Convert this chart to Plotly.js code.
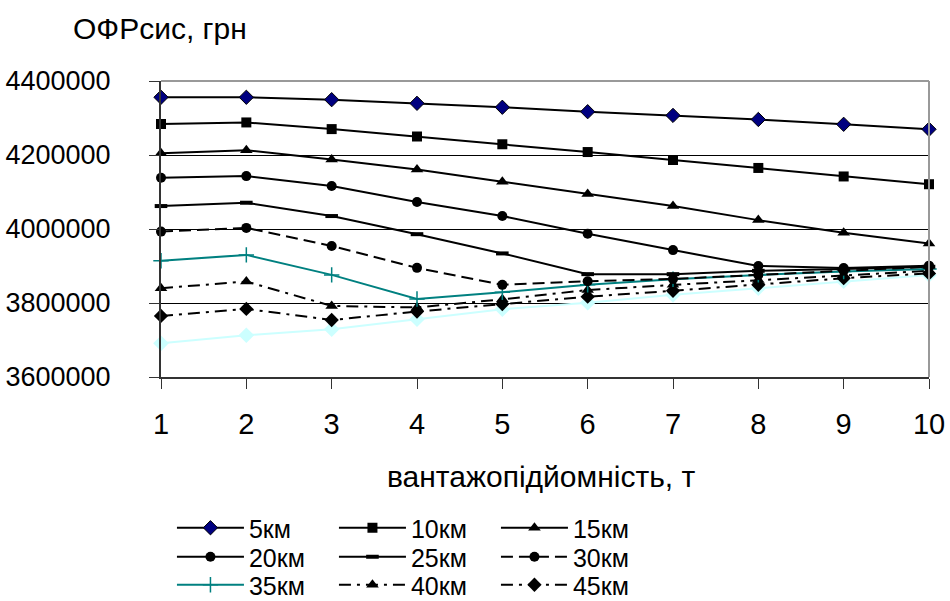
<!DOCTYPE html>
<html>
<head>
<meta charset="utf-8">
<script src="https://cdn.plot.ly/plotly-3.0.1.min.js"></script>
<style>html,body{margin:0;padding:0;background:#fff;}#chart{width:950px;height:601px;}</style>
</head>
<body>
<div id="chart"></div>
<script>
var xValues = [1, 2, 3, 4, 5, 6, 7, 8, 9, 10];
var seriesNames = ["5км", "10км", "15км", "20км", "25км", "30км", "35км", "40км", "45км", "50км"];
var s5  = [4356000, 4356000, 4349500, 4339700, 4329000, 4317000, 4307000, 4296000, 4283000, 4269500];
var s10 = [4283800, 4288000, 4270000, 4250000, 4229000, 4208000, 4186500, 4165000, 4142000, 4121000];
var s15 = [4205000, 4213000, 4188000, 4161000, 4128000, 4094600, 4062000, 4024000, 3990000, 3961000];
var s20 = [4138700, 4143000, 4116000, 4073000, 4035000, 3987000, 3943000, 3900000, 3894600, 3901000];
var s25 = [4062000, 4071000, 4035000, 3986000, 3934000, 3878000, 3878000, 3887000, 3892000, 3898000];
var s30 = [3993000, 4003000, 3954000, 3895000, 3849000, 3859000, 3865000, 3876000, 3887000, 3898000];
var s35 = [3914000, 3930000, 3876000, 3811000, 3829000, 3849000, 3864000, 3876000, 3885000, 3892000];
var s40 = [3840000, 3858000, 3792000, 3788000, 3810000, 3835000, 3849000, 3862000, 3876000, 3887000];
var s45 = [3765000, 3784000, 3754000, 3777000, 3797000, 3817000, 3833000, 3849000, 3867000, 3880000];
var s50 = [3691000, 3713000, 3729000, 3756000, 3783000, 3801000, 3822000, 3840000, 3859000, 3876000];
var yTicks = [3600000, 3800000, 4000000, 4200000, 4400000];
var yTitle = "ОФРсис, грн";
var xTitle = "вантажопідйомність, т";

var allSeries = [s5, s10, s15, s20, s25, s30, s35, s40, s45, s50];
var styles = [
  {line:{color:'#000',width:2}, marker:{symbol:'diamond', size:11, color:'#000080', line:{color:'#000',width:1}}, legend:'legend'},
  {line:{color:'#000',width:2}, marker:{symbol:'square', size:10, color:'#000'}, legend:'legend'},
  {line:{color:'#000',width:2}, marker:{symbol:'triangle-up', size:11, color:'#000'}, legend:'legend'},
  {line:{color:'#000',width:2}, marker:{symbol:'circle', size:10, color:'#000'}, legend:'legend2'},
  {line:{color:'#000',width:2}, marker:{symbol:'line-ew', size:9, color:'#000', line:{color:'#000',width:4}}, legend:'legend2'},
  {line:{color:'#000',width:2, dash:'12px,6px'}, marker:{symbol:'circle', size:10, color:'#000'}, legend:'legend2'},
  {line:{color:'#008080',width:2}, marker:{symbol:'cross-thin', size:11, color:'#008080', line:{color:'#008080',width:1.5}}, legend:'legend3'},
  {line:{color:'#000',width:2, dash:'12px,6px,3px,6px'}, marker:{symbol:'triangle-up', size:11, color:'#000'}, legend:'legend3'},
  {line:{color:'#000',width:2, dash:'12px,6px,3px,6px'}, marker:{symbol:'diamond', size:11, color:'#000'}, legend:'legend3'},
  {line:{color:'#ccffff',width:2}, marker:{symbol:'diamond', size:12, color:'#ccffff'}, legend:'legend3', showlegend:false}
];

var data = allSeries.map(function(s, i){
  var st = styles[i];
  return {
    x: xValues, y: s, name: seriesNames[i], type:'scatter', mode:'lines+markers',
    line: st.line, marker: st.marker, legend: st.legend,
    showlegend: st.showlegend === undefined ? true : st.showlegend,
    cliponaxis: false
  };
});
// draw light series first (beneath), dark series on top
data = [data[9]].concat(data.slice(0,9).reverse());

var FONT = 'Liberation Sans, Arial, sans-serif';
var legBase = {orientation:'h', xref:'container', yref:'container', x:0.181, xanchor:'left', yanchor:'middle',
  itemwidth:67, entrywidth:80, entrywidthmode:'pixels', font:{family:FONT, size:25, color:'#000'},
  bgcolor:'rgba(0,0,0,0)', tracegroupgap:0, traceorder:'reversed'};

function px2x(px){ return (px - 161) / 768; }
function px2y(py){ return (377 - py) / 296; }

var layout = {
  width:950, height:601,
  margin:{l:161, r:21, t:81, b:224},
  paper_bgcolor:'#fff', plot_bgcolor:'#fff',
  font:{family:FONT, color:'#000'},
  xaxis:{range:[1,10], tickvals:xValues, ticks:'outside', ticklen:10, tickcolor:'#333', tickwidth:1,
    showline:true, linecolor:'#333', linewidth:2, showgrid:false, zeroline:false,
    tickfont:{family:FONT, size:29, color:'#000'}, ticklabelstandoff:10},
  yaxis:{range:[3600000,4400000], tickvals:yTicks, ticktext:yTicks.map(String), ticks:'outside', ticklen:10, tickcolor:'#333', tickwidth:1,
    showline:true, linecolor:'#333', linewidth:2, showgrid:true, gridcolor:'#000', gridwidth:1, zeroline:false,
    tickfont:{family:FONT, size:27, color:'#000'}, ticklabelstandoff:33},
  shapes:[
    {type:'line', xref:'paper', yref:'paper', x0:0, x1:1, y0:1, y1:1, line:{color:'#999', width:2}, layer:'above'},
    {type:'line', xref:'paper', yref:'paper', x0:1, x1:1, y0:0, y1:1, line:{color:'#999', width:2}, layer:'above'}
  ],
  annotations:[
    {text:yTitle, xref:'paper', yref:'paper', x:px2x(160), y:px2y(28), xanchor:'center', yanchor:'middle', showarrow:false, font:{family:FONT, size:30, color:'#000'}},
    {text:xTitle, xref:'paper', yref:'paper', x:px2x(541), y:px2y(476), xanchor:'center', yanchor:'middle', showarrow:false, font:{family:FONT, size:30, color:'#000'}}
  ],
  legend: Object.assign({}, legBase, {y:1-528/601}),
  legend2: Object.assign({}, legBase, {y:1-557/601}),
  legend3: Object.assign({}, legBase, {y:1-585/601}),
  showlegend:true
};

Plotly.newPlot('chart', data, layout, {displayModeBar:false, staticPlot:true});
</script>
</body>
</html>
